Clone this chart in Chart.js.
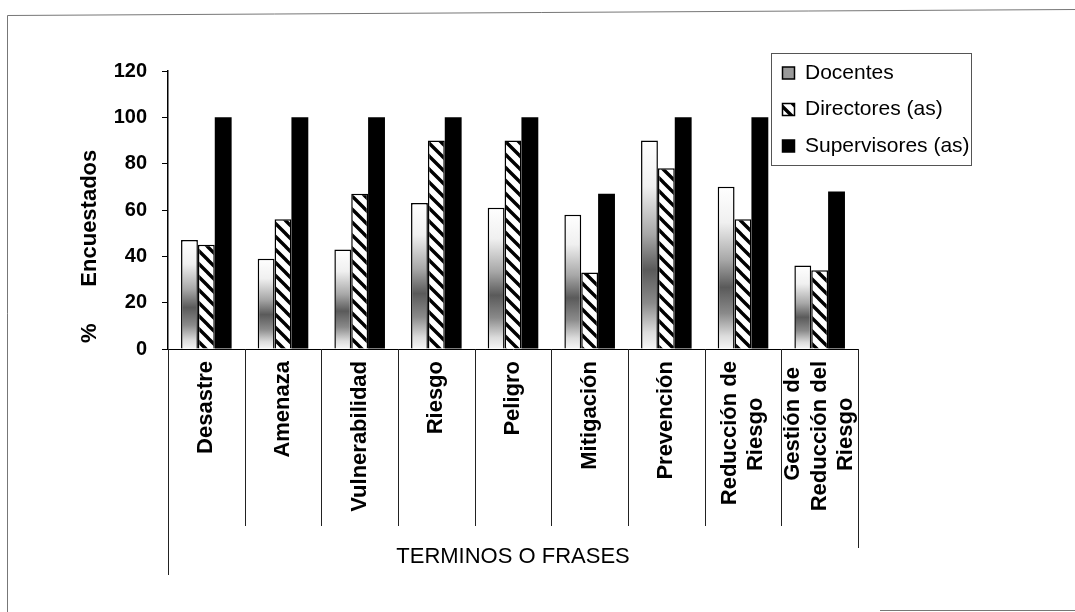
<!DOCTYPE html>
<html>
<head>
<meta charset="utf-8">
<script src="https://cdn.jsdelivr.net/npm/chart.js@4.4.1/dist/chart.umd.min.js"></script>
<style>
html,body{margin:0;padding:0;background:#fff;}
#wrap{position:relative;width:1075px;height:612px;}
</style>
</head>
<body>
<div id="wrap"><canvas id="c" width="1075" height="612"></canvas></div>
<script>
// ---- data ----
const categories = [
  'Desastre', 'Amenaza', 'Vulnerabilidad', 'Riesgo', 'Peligro', 'Mitigación', 'Prevención',
  ['Reducción de', 'Riesgo      '],
  ['Gestión de ', 'Reducción del', 'Riesgo      ']
];
const seriesNames = ['Docentes', 'Directores (as)', 'Supervisores (as)'];
const docentes     = [47, 39, 43, 63, 61, 58, 90, 70, 36];
const directores   = [45, 56, 67, 90, 90, 33, 78, 56, 34];
const supervisores = [100, 100, 100, 100, 100, 67, 100, 100, 68];
const yTicks = [0, 20, 40, 60, 80, 100, 120];
const xTitle = 'TERMINOS O FRASES';
const yTitle = ' %      Encuestados';

Chart.defaults.font.family = "'Liberation Sans', Arial, sans-serif";
Chart.defaults.color = '#000';

// hatch pattern for Directores
function makeHatch() {
  const s = 13;
  const c = document.createElement('canvas');
  c.width = s; c.height = s;
  const g = c.getContext('2d');
  g.fillStyle = '#fff';
  g.fillRect(0, 0, s, s);
  g.strokeStyle = '#000';
  g.lineWidth = 3.4;
  g.beginPath();
  for (let k = -s; k <= s; k += s) {
    g.moveTo(k - 1, -1);
    g.lineTo(k + s + 1, s + 1);
  }
  g.stroke();
  return g.createPattern(c, 'repeat');
}
const hatch = makeHatch();

function docGradient(context) {
  const chart = context.chart;
  if (!chart.chartArea || context.type !== 'data') return '#bbb';
  const ys = chart.scales.y;
  const top = ys.getPixelForValue(context.parsed.y);
  const base = ys.getPixelForValue(0);
  const g = chart.ctx.createLinearGradient(0, top, 0, base);
  g.addColorStop(0, '#ffffff');
  g.addColorStop(0.22, '#f0f0f0');
  g.addColorStop(0.45, '#a8a8a8');
  g.addColorStop(0.62, '#5a5a5a');
  g.addColorStop(0.78, '#8a8a8a');
  g.addColorStop(0.92, '#dcdcdc');
  g.addColorStop(1, '#f6f6f6');
  return g;
}

const decor = {
  id: 'decor',
  afterLayout(chart) {
    const lg = chart.legend;
    if (!lg) return;
    const w = lg.width;
    lg.left = 767; lg.right = lg.left + w;
    lg.top = 47; lg.bottom = lg.top + 130;
  },
  beforeDraw(chart) {
    const ctx = chart.ctx;
    // centre multi-line category labels on their tick
    const xs = chart.scales.x;
    const items = xs.getLabelItems();
    items.forEach(it => {
      if (Array.isArray(it.label) && !it._centred) {
        it.options.translation[0] -= (it.label.length - 1) * it.font.lineHeight / 2;
        it._centred = true;
      }
    });
    ctx.save();
    ctx.fillStyle = '#fff';
    ctx.fillRect(0, 0, chart.width, chart.height);
    // outer frame of the figure
    ctx.strokeStyle = '#777';
    ctx.lineWidth = 1;
    ctx.beginPath();
    ctx.moveTo(7.5, 612);
    ctx.lineTo(7.5, 15.5);
    ctx.lineTo(1075, 9.5);
    ctx.moveTo(880, 610.5);
    ctx.lineTo(1075, 610.5);
    ctx.stroke();
    // legend frame
    ctx.strokeStyle = '#555';
    ctx.strokeRect(771.5, 53.5, 200, 112);
    ctx.restore();
  },
  afterDraw(chart) {
    const ctx = chart.ctx;
    const xs = chart.scales.x;
    const area = chart.chartArea;
    ctx.save();
    ctx.strokeStyle = '#222';
    ctx.lineWidth = 1;
    ctx.beginPath();
    for (let i = 0; i <= categories.length; i++) {
      const px = Math.round(xs.getPixelForValue(i - 0.5)) + 0.5;
      const len = i === 0 ? 226 : (i === categories.length ? 199 : 177);
      ctx.moveTo(px, area.bottom);
      ctx.lineTo(px, area.bottom + len);
    }
    ctx.stroke();
    ctx.restore();
  }
};

new Chart(document.getElementById('c'), {
  type: 'bar',
  data: {
    labels: categories,
    datasets: [
      { label: seriesNames[0], data: docentes, backgroundColor: docGradient, borderColor: '#000', borderWidth: 1.5 },
      { label: seriesNames[1], data: directores, backgroundColor: hatch, borderColor: '#000', borderWidth: 1.5 },
      { label: seriesNames[2], data: supervisores, backgroundColor: '#000', borderColor: '#000', borderWidth: 0 }
    ]
  },
  options: {
    responsive: false,
    animation: false,
    devicePixelRatio: 1,
    layout: { padding: { top: 71, left: 0, right: 217, bottom: 0 } },
    datasets: { bar: { categoryPercentage: 0.66, barPercentage: 1.0 } },
    plugins: {
      tooltip: { enabled: false },
      legend: {
        position: 'chartArea',
        align: 'start',
        labels: {
          boxWidth: 12,
          boxHeight: 12,
          padding: 15.5,
          color: '#000',
          font: { size: 21 },
          generateLabels(chart) {
            const items = Chart.defaults.plugins.legend.labels.generateLabels(chart);
            items[0].fillStyle = '#9a9a9a';
            items.forEach(it => { it.strokeStyle = '#000'; it.lineWidth = 1.5; });
            return items;
          }
        }
      }
    },
    scales: {
      x: {
        grid: { display: false, drawTicks: false },
        border: { display: true, color: '#000', width: 1 },
        ticks: {
          autoSkip: false, minRotation: 90, maxRotation: 90, padding: 12,
          color: '#000', font: { size: 22, weight: 'bold' }
        },
        title: { display: true, text: xTitle, color: '#000', font: { size: 22, weight: 'normal' }, padding: { top: 20, bottom: 42 } },
        afterFit(s) { s.height = 263; }
      },
      y: {
        min: 0, max: 120,
        afterBuildTicks(s) { s.ticks = yTicks.map(v => ({ value: v })); },
        grid: { drawOnChartArea: false, drawTicks: true, tickLength: 6, color: '#000', lineWidth: 1 },
        border: { display: true, color: '#000', width: 1.5 },
        ticks: { padding: 15, color: '#000', font: { size: 20, weight: 'bold' } },
        title: { display: true, text: yTitle, align: 'start', color: '#000', font: { size: 22, weight: 'bold' }, padding: { top: 77, bottom: 10 } },
        afterFit(s) { s.width = 168; }
      }
    }
  },
  plugins: [decor]
});
</script>
</body>
</html>
